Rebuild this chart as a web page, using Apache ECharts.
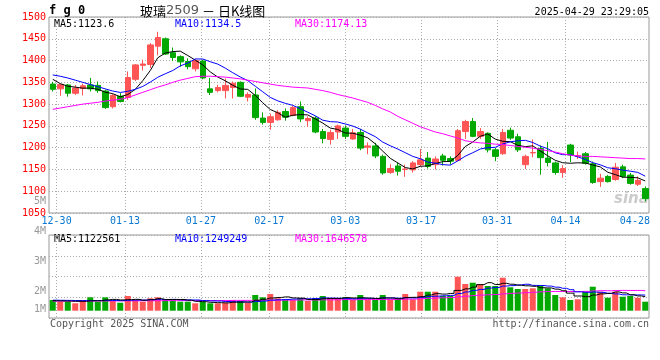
<!DOCTYPE html>
<html><head><meta charset="utf-8">
<script src="https://cdn.jsdelivr.net/npm/echarts@6/dist/echarts.min.js"></script>
<style>html,body{margin:0;padding:0;background:#fff}#c{width:660px;height:360px}</style>
</head><body><div id="c"></div>
<script>
// ---- data ----
const dates = ['12-27','12-30','12-31','01-02','01-03','01-06','01-07','01-08','01-09','01-10',
'01-13','01-14','01-15','01-16','01-17','01-20','01-21','01-22','01-23','01-24',
'01-27','02-05','02-06','02-07','02-10','02-11','02-12','02-13','02-14','02-17',
'02-18','02-19','02-20','02-21','02-24','02-25','02-26','02-27','02-28','03-03',
'03-04','03-05','03-06','03-07','03-10','03-11','03-12','03-13','03-14','03-17',
'03-18','03-19','03-20','03-21','03-24','03-25','03-26','03-27','03-28','03-31',
'04-01','04-02','04-03','04-07','04-08','04-09','04-10','04-11','04-14','04-15',
'04-16','04-17','04-18','04-21','04-22','04-23','04-24','04-25','04-28','04-29'];

const openP = [1346,1335,1344,1325,1336,1344,1343,1330,1294,1318,
1315,1357,1389,1391,1433,1450,1418,1409,1398,1381,
1399,1335,1331,1331,1338,1350,1316,1321,1268,1258,
1264,1283,1274,1294,1262,1268,1237,1219,1236,1245,
1220,1235,1201,1204,1180,1143,1158,1150,1149,1161,
1176,1161,1181,1175,1171,1237,1260,1226,1233,1195,
1186,1240,1225,1161,1188,1198,1176,1165,1143,1206,
1180,1186,1163,1122,1134,1127,1156,1137,1116,1106];

const closeP = [1334,1345,1325,1337,1342,1335,1331,1292,1320,1306,
1361,1390,1392,1436,1453,1415,1407,1397,1386,1400,
1360,1327,1338,1343,1348,1318,1322,1269,1258,1271,
1281,1270,1292,1266,1267,1236,1221,1235,1250,1226,
1234,1199,1204,1181,1142,1152,1146,1151,1165,1172,
1157,1174,1171,1169,1239,1260,1226,1237,1195,1180,
1235,1222,1195,1180,1189,1177,1166,1143,1152,1183,
1182,1164,1120,1130,1122,1155,1134,1118,1125,1083];

const lowP = [1329,1319,1317,1321,1320,1329,1326,1289,1290,1304,
1310,1353,1377,1383,1412,1413,1399,1386,1380,1375,
1357,1321,1327,1313,1313,1316,1306,1264,1253,1241,
1262,1262,1272,1259,1248,1233,1210,1207,1220,1220,
1218,1194,1185,1176,1138,1140,1136,1133,1143,1157,
1152,1150,1159,1161,1168,1220,1224,1220,1189,1169,
1184,1218,1190,1151,1178,1138,1157,1138,1131,1167,
1174,1161,1117,1110,1120,1124,1130,1115,1112,1077];

const highP = [1351,1347,1346,1344,1347,1360,1352,1333,1323,1325,
1375,1392,1402,1440,1466,1453,1430,1412,1405,1403,
1402,1360,1344,1359,1352,1352,1327,1336,1281,1278,
1286,1290,1296,1306,1272,1272,1243,1241,1253,1250,
1243,1243,1212,1211,1184,1162,1166,1161,1169,1197,
1190,1180,1186,1180,1243,1264,1268,1245,1235,1199,
1243,1246,1232,1184,1219,1205,1213,1168,1160,1209,
1191,1190,1168,1140,1137,1165,1161,1142,1134,1111];

const ma5 = [1357,1347,1341,1339,1336.6,1336.8,1334,1327.4,1324,1316.8,
1322,1333.8,1353.8,1377,1406.4,1417.2,1420.6,1421.6,1411.6,1401,
1390,1374,1362.2,1353.6,1343.2,1334.8,1333.8,1320,1303,1287.6,
1280.2,1269.8,1274.4,1276,1275.2,1266.2,1256.4,1245,1241.8,1233.6,
1233.2,1228.8,1222.6,1208.8,1192,1175.6,1165,1154.4,1151.2,1157.2,
1158.2,1163.8,1167.8,1168.6,1182,1202.6,1213,1226.2,1231.4,1219.6,
1214.6,1213.8,1205.4,1202.4,1204.2,1192.6,1181.4,1171,1165.4,1164.2,
1165.2,1164.8,1160.2,1155.8,1143.6,1138.2,1132.2,1131.8,1130.8,1123.6];

const ma10 = [1367,1364,1360,1355,1350,1345,1340,1335,1330,1326.7,
1329.4,1333.9,1340.6,1350.5,1361.6,1369.6,1377.2,1387.7,1394.3,1403.7,
1403.6,1397.3,1391.9,1382.6,1372.1,1362.4,1353.9,1341.1,1328.3,1315.4,
1307.5,1301.8,1297.2,1289.5,1281.4,1273.2,1263.1,1259.7,1258.9,1254.4,
1249.7,1242.6,1233.8,1225.3,1212.8,1204.4,1196.9,1188.5,1180,1174.6,
1166.9,1164.4,1161.1,1159.9,1169.6,1180.4,1188.4,1197,1200,1200.8,
1208.6,1213.4,1215.8,1216.9,1211.9,1203.6,1197.6,1188.2,1183.9,1184.2,
1178.9,1173.1,1165.6,1160.6,1153.9,1151.7,1148.5,1146,1143.3,1134.5];

const ma30 = [1288,1291,1294,1297,1300,1302,1304,1307,1309,1311,
1315,1321,1327,1333,1339,1344,1350,1355,1359,1363,
1364,1364,1363,1362,1360,1358,1355,1352,1349,1346,
1343,1341,1339,1338,1337,1334,1331,1327,1322,1318,
1314,1309,1304,1297,1289,1282,1272,1264,1256,1248,
1242,1236,1232,1227,1222,1216,1213,1211,1210,1208,
1207,1205,1203,1201,1199,1196,1193,1190,1186,1183,
1181,1180,1180,1179,1178,1177,1176,1175,1175,1174.13];

// volumes, in thousands of lots
const volumeK = [910,765,765,629,910,1139,765,1139,850,680,
1250,910,765,1054,1139,910,910,765,765,629,
765,629,629,680,910,825,680,1335,1139,1420,
1054,910,910,1054,825,1054,1250,1054,1054,1139,
910,1335,910,910,1335,910,1054,1420,969,1615,
1615,1615,1250,1250,2890,2270,2380,2270,2100,2100,
2805,1989,1845,1845,1904,2185,1904,1335,1139,910,
969,1615,2040,1615,1105,1615,1190,1250,1105,765];

const volMa5K = [850,833,816,799,796,842,842,916,961,915,
937,966,891,932,1023,955,955,955,898,796,
767,711,683,666,723,734,745,886,978,1080,
1125,1171,1086,1069,950,950,1018,1047,1047,1110,
1081,1098,1069,1040,1080,1080,1023,1125,1137,1193,
1335,1447,1413,1469,1724,1855,2008,2212,2382,2224,
2331,2253,2168,2117,2077,1953,1936,1834,1693,1494,
1251,1193,1335,1430,1469,1598,1513,1355,1253,1185];

const volMa10K = [893,884,876,867,859,859,867,876,867,855,
889,904,904,946,969,946,961,923,915,910,
861,833,819,782,759,751,728,785,822,901,
930,958,986,1023,1015,1038,1095,1067,1058,1030,
1016,1058,1058,1044,1095,1080,1061,1097,1089,1136,
1207,1235,1269,1303,1459,1595,1727,1812,1925,1974,
2093,2130,2190,2249,2151,2142,2094,2001,1905,1786,
1602,1565,1584,1561,1482,1425,1353,1345,1341,1327];

const volMa30K = [816,816,816,825,825,825,833,833,833,842,
842,842,850,850,850,859,859,859,859,867,
867,867,867,867,876,876,876,884,884,888,
893,898,903,917,915,911,927,925,932,947,
936,949,955,949,956,956,961,983,989,1023,
1051,1084,1104,1124,1189,1238,1295,1325,1357,1380,
1438,1475,1505,1532,1568,1606,1628,1637,1640,1632,
1634,1643,1681,1704,1697,1720,1725,1720,1724,1696];

const xTickLabels = ['12-30','01-13','01-27','02-17','03-03','03-17','03-31','04-14','04-28'];
const volTickLabels = ['1M','2M','3M','4M','5M'];
const priceMin = 1050, priceMax = 1500, priceStep = 50;
const legendMain = ['MA5:1123.6','MA10:1134.5','MA30:1174.13'];
const legendVol = ['MA5:1122561','MA10:1249249','MA30:1646578'];

// ---- chart ----
const UP = '#ff5555', DOWN = '#00a800', GRIDC = '#aaaaaa', BORDER = '#999999';
const MONO = '"DejaVu Sans Mono", monospace';
const K = v => v * 1000;
const lastTick = xTickLabels[xTickLabels.length - 1];
const isTick = v => xTickLabels.indexOf(v) >= 0;
const isGridTick = v => isTick(v) && v !== lastTick;
const VOL_MIN = -620000, VOL_MAX = 6436000;

const chart = echarts.init(document.getElementById('c'), null, {renderer: 'canvas', width: 660, height: 360});

const dotted = {color: GRIDC, width: 1, type: [1, 2]};
const txt = (text, x, y, fill, extra) => ({
  type: 'text', x: x, y: y, silent: true,
  style: Object.assign({text: text, fill: fill, fontSize: 10, fontFamily: MONO,
    verticalAlign: 'middle', textVerticalAlign: 'middle'}, extra || {})
});

const option = {
  animation: false,
  backgroundColor: '#fff',
  grid: [
    {left: 49, right: 11, top: 17, height: 196, show: true, borderColor: BORDER, borderWidth: 1, backgroundColor: 'transparent'},
    {left: 49, right: 11, top: 235, height: 83, show: true, borderColor: BORDER, borderWidth: 1, backgroundColor: 'transparent'},
    {left: 49, right: 11, top: 195, height: 156, show: false}
  ],
  xAxis: [
    {gridIndex: 0, type: 'category', data: dates, boundaryGap: true, show: false, position: 'top'},
    {gridIndex: 0, type: 'category', data: dates, boundaryGap: false, position: 'bottom',
      axisLine: {show: false}, axisTick: {show: false},
      axisLabel: {interval: (i, v) => isTick(v), color: '#0a78d2', fontFamily: MONO, fontSize: 10, margin: 3,
        formatter: v => v === lastTick ? '{e|' + v + '}' : v,
        rich: {e: {padding: [0, 13, 0, 0], color: '#0a78d2', fontFamily: MONO, fontSize: 10}}},
      splitLine: {show: true, interval: (i, v) => isGridTick(v), lineStyle: dotted}},
    {gridIndex: 1, type: 'category', data: dates, boundaryGap: true, show: false, position: 'top'},
    {gridIndex: 1, type: 'category', data: dates, boundaryGap: false, position: 'bottom',
      axisLine: {show: false}, axisTick: {show: false}, axisLabel: {show: false},
      splitLine: {show: true, interval: (i, v) => isGridTick(v), lineStyle: dotted}},
    {gridIndex: 2, type: 'value', show: false, min: 0, max: 1}
  ],
  yAxis: [
    {gridIndex: 0, type: 'value', min: priceMin, max: priceMax, interval: priceStep,
      axisLine: {show: false}, axisTick: {show: false},
      axisLabel: {color: '#ff0000', fontFamily: MONO, fontSize: 10, margin: 3, formatter: v => String(v)},
      splitLine: {show: true, lineStyle: dotted}},
    {gridIndex: 1, type: 'value', min: VOL_MIN, max: VOL_MAX, interval: (VOL_MAX - VOL_MIN) / 4,
      axisLine: {show: false}, axisTick: {show: false}, axisLabel: {show: false},
      splitLine: {show: true, lineStyle: dotted}},
    {gridIndex: 2, type: 'value', min: 0, max: 5.2, interval: 1,
      axisLine: {show: false}, axisTick: {show: false}, splitLine: {show: false},
      axisLabel: {customValues: [1.37, 2, 3, 4, 5], color: '#999', fontFamily: MONO, fontSize: 10, margin: 3,
        formatter: v => volTickLabels[Math.round(v) - 1] || ''}}
  ],
  series: [
    {type: 'candlestick', xAxisIndex: 0, yAxisIndex: 0, barWidth: 6,
      data: dates.map((d, i) => [openP[i], closeP[i], lowP[i], highP[i]]),
      itemStyle: {color: UP, color0: DOWN, borderColor: UP, borderColor0: DOWN, borderWidth: 1}},
    {type: 'line', xAxisIndex: 0, yAxisIndex: 0, data: ma5, symbol: 'none', lineStyle: {color: '#000', width: 1}},
    {type: 'line', xAxisIndex: 0, yAxisIndex: 0, data: ma10, symbol: 'none', lineStyle: {color: '#0000ff', width: 1}},
    {type: 'line', xAxisIndex: 0, yAxisIndex: 0, data: ma30, symbol: 'none', lineStyle: {color: '#ff00ff', width: 1}},
    {type: 'bar', xAxisIndex: 2, yAxisIndex: 1, barWidth: 6,
      data: volumeK.map((v, i) => ({value: K(v), itemStyle: {color: closeP[i] >= openP[i] ? UP : DOWN}}))},
    {type: 'line', xAxisIndex: 2, yAxisIndex: 1, data: volMa30K.map(K), step: 'middle', symbol: 'none', lineStyle: {color: '#ff00ff', width: 1}},
    {type: 'line', xAxisIndex: 2, yAxisIndex: 1, data: volMa10K.map(K), step: 'middle', symbol: 'none', lineStyle: {color: '#0000ff', width: 1}},
    {type: 'line', xAxisIndex: 2, yAxisIndex: 1, data: volMa5K.map(K), step: 'middle', symbol: 'none', lineStyle: {color: '#000', width: 1}}
  ],
  graphic: [
    txt('f g 0', 49, 11, '#000', {fontSize: 12, fontWeight: 'bold'}),
    txt('玻璃{g|2509} － 日K线图', 140, 11, '#000', {fontSize: 13, fontFamily: '"Noto Sans CJK SC", sans-serif',
      rich: {g: {fill: '#555', fontSize: 13, fontFamily: '"DejaVu Sans", sans-serif'}}}),
    txt('2025-04-29 23:29:05', 649, 12, '#000', {align: 'right', textAlign: 'right'}),
    txt(legendMain[0], 54, 24, '#000'),
    txt(legendMain[1], 175, 24, '#0000ff'),
    txt(legendMain[2], 295, 24, '#ff00ff'),
    txt(legendVol[0], 54, 239, '#000'),
    txt(legendVol[1], 175, 239, '#0000ff'),
    txt(legendVol[2], 295, 239, '#ff00ff'),
    txt('Copyright 2025 SINA.COM', 50, 324, '#555'),
    txt('http://finance.sina.com.cn', 649, 324, '#555', {align: 'right', textAlign: 'right'}),
    txt('sina', 614, 199, 'rgba(160,160,160,0.55)', {fontSize: 15, fontStyle: 'italic', fontWeight: 'bold', fontFamily: '"DejaVu Sans", sans-serif'})
  ]
};
chart.setOption(option);
</script>
</body></html>
